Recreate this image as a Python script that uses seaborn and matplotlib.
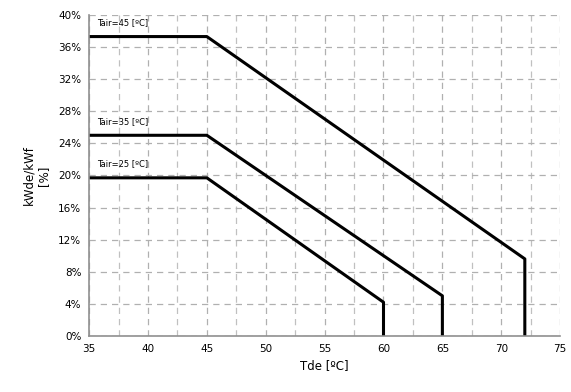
import matplotlib
matplotlib.use("Agg")
import matplotlib.pyplot as plt
from matplotlib.ticker import MultipleLocator, FuncFormatter
import seaborn as sns
import pandas as pd

# Derating curves: plateau to 45 °C, linear decrease, vertical cut-off
series_names = ["Tair=45 [°C]", "Tair=35 [°C]", "Tair=25 [°C]"]
tde_45 = [35, 45, 72, 72]
kw_45 = [37.3, 37.3, 9.6, 0]
tde_35 = [35, 45, 65, 65]
kw_35 = [25.0, 25.0, 5.0, 0]
tde_25 = [35, 45, 60, 60]
kw_25 = [19.7, 19.7, 4.2, 0]

x_ticks = [35, 40, 45, 50, 55, 60, 65, 70, 75]
y_ticks = [0, 4, 8, 12, 16, 20, 24, 28, 32, 36, 40]

frames = []
for name, xs, ys in zip(series_names, [tde_45, tde_35, tde_25], [kw_45, kw_35, kw_25]):
    frames.append(pd.DataFrame({"Tde": xs, "kW": ys, "curve": name}))
df = pd.concat(frames, ignore_index=True)

sns.set_style("white")
plt.rcParams["font.family"] = ["DejaVu Sans"]
plt.rcParams["text.color"] = "black"
plt.rcParams["axes.labelcolor"] = "black"
plt.rcParams["xtick.color"] = "black"
plt.rcParams["ytick.color"] = "black"

fig = plt.figure(figsize=(5.71, 3.92), dpi=100)
ax = fig.add_axes([0.156, 0.143, 0.825, 0.819])

sns.lineplot(data=df, x="Tde", y="kW", hue="curve", units="curve",
             estimator=None, sort=False, palette=["black"] * 3,
             linewidth=2.2, legend=False, ax=ax)

ax.set_xlim(35, 75)
ax.set_ylim(0, 40)
ax.set_xticks(x_ticks)
ax.set_yticks(y_ticks)
ax.xaxis.set_minor_locator(MultipleLocator(2.5))
ax.yaxis.set_major_formatter(FuncFormatter(lambda v, p: f"{int(v)}%"))

ax.grid(which="major", axis="both", color="#b0b0b0", linestyle=(0, (5, 4)), linewidth=0.9)
ax.grid(which="minor", axis="x", color="#c0c0c0", linestyle=(0, (5, 4)), linewidth=0.9)
ax.set_axisbelow(True)

for side in ("top", "right"):
    ax.spines[side].set_visible(False)
for side in ("left", "bottom"):
    ax.spines[side].set_color("#909090")
    ax.spines[side].set_linewidth(1.2)

ax.tick_params(axis="both", which="major", direction="inout", length=5,
               color="#909090", labelcolor="black", labelsize=7.5, pad=3)
ax.tick_params(axis="x", which="minor", length=0)

ax.set_xlabel("Tde [ºC]", fontsize=8.5, labelpad=4)
ax.set_ylabel("kWde/kWf\n[%]", fontsize=8.5, labelpad=6)

# Curve labels above each plateau
label_y = {"Tair=45 [°C]": 38.5, "Tair=35 [°C]": 26.2, "Tair=25 [°C]": 20.9}
for name in series_names:
    ax.text(35.7, label_y[name], name.replace("°", "º"), fontsize=6,
            color="black", va="bottom", ha="left")

fig.savefig("out.png", dpi=100)
